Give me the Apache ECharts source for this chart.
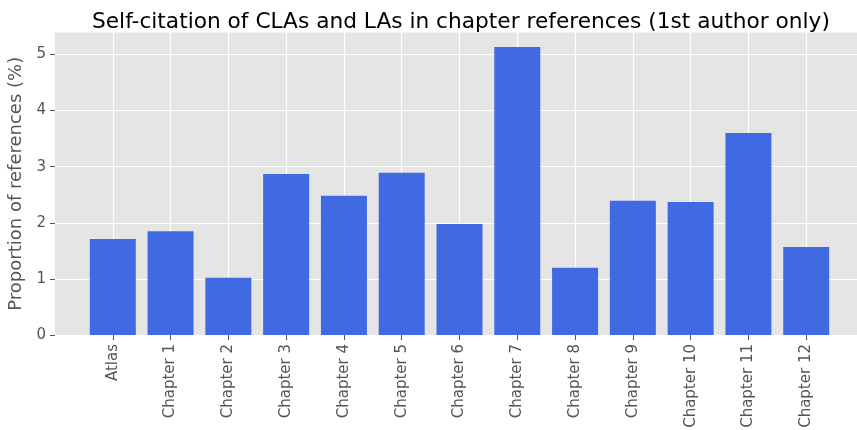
<!DOCTYPE html>
<html>
<head>
<meta charset="utf-8">
<script src="https://cdn.jsdelivr.net/npm/echarts@6/dist/echarts.min.js"></script>
<style>html,body{margin:0;padding:0;background:#fff}#c{width:857px;height:430px}</style>
</head>
<body>
<div id="c"></div>
<script>
const categories = ['Atlas','Chapter 1','Chapter 2','Chapter 3','Chapter 4','Chapter 5','Chapter 6','Chapter 7','Chapter 8','Chapter 9','Chapter 10','Chapter 11','Chapter 12'];
const values = [1.71, 1.85, 1.02, 2.87, 2.48, 2.89, 1.98, 5.13, 1.20, 2.39, 2.37, 3.60, 1.57];
const yTicks = [0, 1, 2, 3, 4, 5];
const titleText = 'Self-citation of CLAs and LAs in chapter references (1st author only)';
const yName = 'Proportion of references (%)';

const font = 'DejaVu Sans';
const xTickVals = categories.map((c, i) => i);
const chart = echarts.init(document.getElementById('c'), null, {renderer: 'canvas'});
chart.setOption({
  animation: false,
  backgroundColor: '#ffffff',
  title: {
    text: titleText,
    left: 87, top: 6,
    textStyle: {fontFamily: font, fontSize: 21.7, fontWeight: 'normal', color: '#000'}
  },
  grid: {left: 55, top: 32.5, width: 809, height: 302.5, backgroundColor: '#E5E5E5', show: true, borderWidth: 0,
         containLabel: false, outerBoundsMode: 'none'},
  xAxis: {
    type: 'value', min: -1, max: 13, interval: 1,
    axisLine: {show: false, onZero: false},
    axisTick: {show: true, length: 5, lineStyle: {color: '#555555', width: 1}, customValues: xTickVals},
    axisLabel: {
      customValues: xTickVals, rotate: 90, margin: 9,
      fontFamily: font, fontSize: 15, color: '#555555',
      formatter: v => categories[Math.round(v)] || ''
    },
    splitLine: {show: true, lineStyle: {color: '#ffffff', width: 1.2}}
  },
  yAxis: {
    type: 'value', min: 0, max: 5.39, interval: 1,
    name: yName, nameLocation: 'middle', nameGap: 24,
    nameTextStyle: {fontFamily: font, fontSize: 18, color: '#555555'},
    axisLine: {show: false, onZero: false},
    axisTick: {show: true, length: 5, lineStyle: {color: '#555555', width: 1}, customValues: yTicks},
    axisLabel: {customValues: yTicks, margin: 9, fontFamily: font, fontSize: 15, color: '#555555'},
    splitLine: {show: true, lineStyle: {color: '#ffffff', width: 1.2}}
  },
  series: [{
    type: 'bar',
    data: values.map((v, i) => [i, v]),
    barWidth: 46,
    itemStyle: {color: '#4169E1'}
  }]
});
</script>
</body>
</html>
